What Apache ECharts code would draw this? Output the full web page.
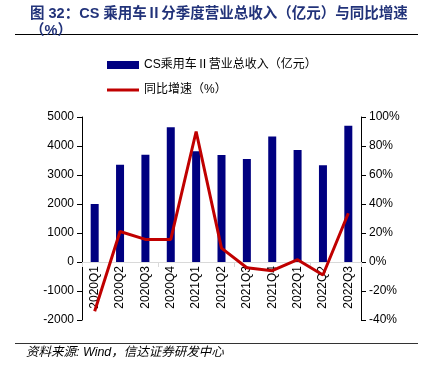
<!DOCTYPE html>
<html><head><meta charset="utf-8">
<script src="https://cdn.jsdelivr.net/npm/echarts@6/dist/echarts.min.js"></script>
<style>html,body{margin:0;padding:0;background:#fff}#c{width:421px;height:370px}</style>
</head><body><div id="c"></div>
<script>
const categories = ['2020Q1','2020Q2','2020Q3','2020Q4','2021Q1','2021Q2','2021Q3','2021Q4','2022Q1','2022Q2','2022Q3'];
const revenue = [2000, 3350, 3700, 4650, 3820, 3690, 3550, 4330, 3860, 3340, 4700];
const growth = [-34, 21, 15.6, 15.6, 90, 9.6, -4, -6, 1.6, -9, 33.6];
const barName = 'CS乘用车Ⅱ营业总收入（亿元）';
const lineName = '同比增速（%）';
const font = '"Liberation Sans", Arial, "Noto Sans CJK SC", sans-serif';
const chart = echarts.init(document.getElementById('c'));
chart.setOption({
  animation: false,
  backgroundColor: '#fff',
  title: [
    {text: '图 32：CS 乘用车Ⅱ分季度营业总收入（亿元）与同比增速', left: 25, top: 2,
     textStyle: {fontSize: 14.5, fontWeight: 'bold', color: '#22337A', fontFamily: font}},
    {text: '（%）', left: 25, top: 19,
     textStyle: {fontSize: 14.5, fontWeight: 'bold', color: '#22337A', fontFamily: font}}
  ],
  graphic: [
    {type: 'line', shape: {x1: 15, y1: 34.5, x2: 418, y2: 34.5}, style: {stroke: '#000', lineWidth: 1.2}},
    {type: 'line', shape: {x1: 15, y1: 343.5, x2: 418, y2: 343.5}, style: {stroke: '#333', lineWidth: 1}},
    {type: 'text', left: 26, top: 346, style: {text: '资料来源: Wind，信达证券研发中心', fontSize: 12.5, fontStyle: 'italic', fill: '#000', fontFamily: font}}
  ],
  legend: {
    orient: 'vertical', left: 102, top: 54, itemGap: 13, itemWidth: 32, itemHeight: 8,
    textStyle: {fontSize: 12, color: '#000', fontFamily: font},
    data: [{name: barName, icon: 'rect'}, {name: lineName, icon: 'path://M0,0 L32,0 L32,3 L0,3 Z'}]
  },
  grid: {left: 82, right: 60, top: 117, bottom: 50},
  xAxis: [
    {type: 'category', data: categories,
     axisLine: {onZero: true, lineStyle: {color: '#d9d9d9'}},
     axisTick: {show: true, alignWithLabel: false, lineStyle: {color: '#d9d9d9'}},
     axisLabel: {show: false}},
    {type: 'category', data: categories, position: 'bottom', offset: -58,
     axisLine: {show: false, onZero: false}, axisTick: {show: false},
     axisLabel: {rotate: 90, fontSize: 12, color: '#000', fontFamily: font, interval: 0, margin: 4}}
  ],
  yAxis: [
    {type: 'value', min: -2000, max: 5000, interval: 1000,
     axisLine: {show: true, lineStyle: {color: '#000'}}, axisTick: {show: true, lineStyle: {color: '#000'}},
     splitLine: {show: false},
     axisLabel: {fontSize: 12, color: '#000', fontFamily: font, formatter: v => String(v)}},
    {type: 'value', min: -40, max: 100, interval: 20, position: 'right',
     axisLine: {show: true, lineStyle: {color: '#000'}}, axisTick: {show: true, lineStyle: {color: '#000'}},
     splitLine: {show: false},
     axisLabel: {fontSize: 12, color: '#000', fontFamily: font, formatter: '{value}%'}}
  ],
  series: [
    {name: barName, type: 'bar', data: revenue, barWidth: 8, itemStyle: {color: '#000080'}},
    {name: lineName, type: 'line', yAxisIndex: 1, data: growth, symbol: 'none',
     lineStyle: {color: '#C00000', width: 3}, itemStyle: {color: '#C00000'}}
  ]
});
</script></body></html>
